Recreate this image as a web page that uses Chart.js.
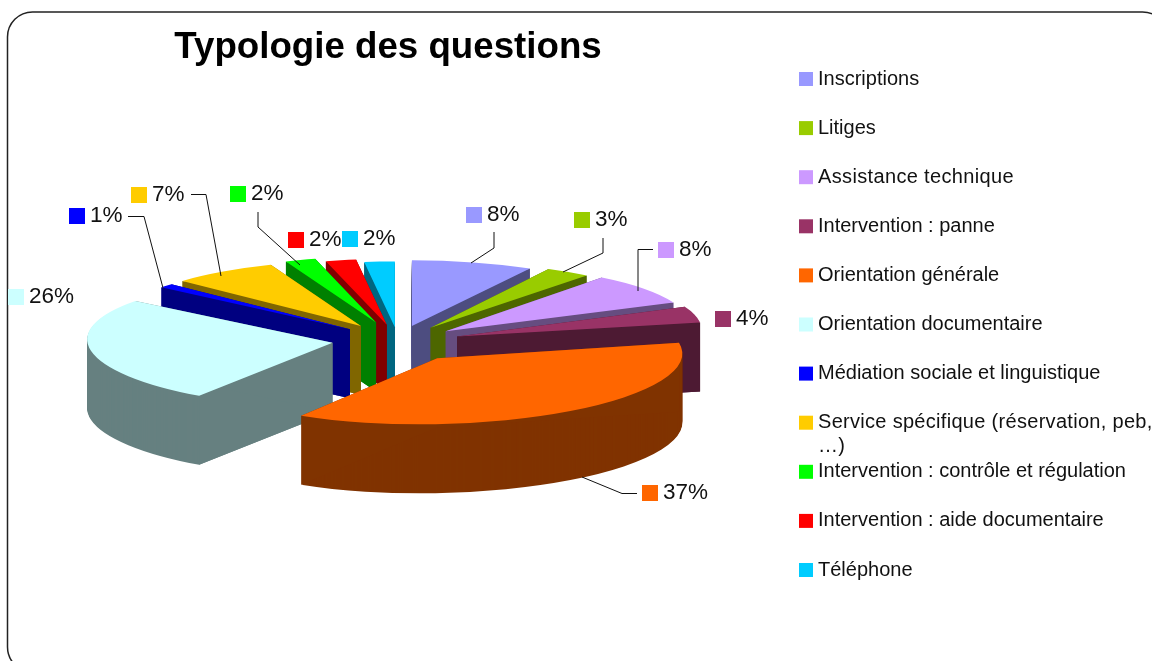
<!DOCTYPE html>
<html lang="fr">
<head>
<meta charset="utf-8">
<title>Typologie des questions</title>
<script src="https://cdn.jsdelivr.net/npm/chart.js@4"></script>
<style>
html,body{margin:0;padding:0;background:#fff}
canvas{display:block}
</style>
</head>
<body>
<canvas id="c" width="1152" height="661"></canvas>
<script>
const chartTitle = 'Typologie des questions';
const categories = ['Inscriptions','Litiges','Assistance technique','Intervention : panne','Orientation générale','Orientation documentaire','Médiation sociale et linguistique','Service spécifique (réservation, peb,|…)','Intervention : contrôle et régulation','Intervention : aide documentaire','Téléphone'];
const shares = [8,3,8,4,37,26,1,7,2,2,2];
const topColors = ['#9999FF','#99CC00','#CC99FF','#993366','#FF6600','#CCFFFF','#0000FF','#FFCC00','#00FF00','#FF0000','#00CCFF'];
const sideColors = ['#4D4D80','#4D6600','#664D80','#4D1A33','#803300','#668080','#000080','#806600','#008000','#800000','#006680'];
const explode = [56,58,59,61,77,66,64,66,71,60,50];
const shearX = [0,0,0,0,0.15,0.2,0,0,0,0,0];
const shearY = [0,-0.01,-0.02,-0.024,-0.03,0,0,0,0,0,0];
const tracking = [0,0,0.35,0,0,0,0,0.3,0,0,0];
const paintOrder = [10,9,8,7,6,0,1,2,3,5,4];
const labelBoxes = [[466,207],[574,212],[658,242],[715,311],[642,485],[8,289],[69,208],[131,187],[230,186],[288,232],[342,231]];
const leaders = [
  [[494,232],[494,248],[471,263]],
  [[603,238],[603,253],[563,272]],
  [[653,249.5],[638,249.5],[638,291]],
  [[582,477],[622,493.5],[637,493.5]],
  [[128,216.5],[144,216.5],[163,288]],
  [[191,194.5],[206,194.5],[221,276]],
  [[258,212],[258,227],[300,265]]
];
const tilt = 0.268, depth = 69;

const pie3d = {
  id: 'pie3d',
  beforeDraw(chart) {
    const c = chart.ctx;
    c.save();
    c.fillStyle = '#fff';
    c.fillRect(0, 0, chart.width, chart.height);
    c.strokeStyle = '#222';
    c.lineWidth = 1.5;
    c.beginPath();
    c.roundRect(7.5, 12, 1160, 660, 25);
    c.stroke();
    c.restore();
  },
  afterLayout(chart) {
    chart.titleBlock.left = 0;
    chart.titleBlock.right = 776;
  },
  beforeDatasetDraw(chart) {
    const c = chart.ctx, arcs = chart.getDatasetMeta(0).data;
    paintOrder.forEach(i => {
      const arc = arcs[i], base = arc.options;
      const mid = (arc.startAngle + arc.endAngle) / 2;
      const ax = arc.x + Math.cos(mid) * explode[i];
      const ay = arc.y + Math.sin(mid) * explode[i] * tilt;
      const place = dy => {
        c.save();
        c.translate(ax, ay + dy);
        c.transform(1, shearY[i], shearX[i], 1, 0, 0);
        c.scale(1, tilt);
        c.translate(-arc.x, -arc.y);
      };
      arc.options = Object.assign({}, base, {backgroundColor: sideColors[i]});
      for (let d = depth; d >= 1; d--) { place(d); arc.draw(c); c.restore(); }
      arc.options = base;
      c.fillStyle = sideColors[i];
      [arc.startAngle, arc.endAngle].forEach(a => {
        const px = Math.cos(a) * arc.outerRadius, py = Math.sin(a) * arc.outerRadius * tilt;
        const rx = ax + px + shearX[i] * py, ry = ay + py + shearY[i] * px;
        c.beginPath();
        c.moveTo(ax, ay);
        c.lineTo(rx, ry);
        c.lineTo(rx, ry + depth);
        c.lineTo(ax, ay + depth);
        c.closePath();
        c.fill();
      });
      place(0); arc.draw(c); c.restore();
    });
    return false;
  },
  afterDraw(chart) {
    const c = chart.ctx;
    c.save();
    c.strokeStyle = '#111';
    c.lineWidth = 1;
    leaders.forEach(l => {
      c.beginPath();
      l.forEach((p, j) => j ? c.lineTo(p[0], p[1]) : c.moveTo(p[0], p[1]));
      c.stroke();
    });
    c.textBaseline = 'middle';
    c.textAlign = 'left';
    c.font = '22.5px "Liberation Sans", Arial, sans-serif';
    shares.forEach((v, i) => {
      const [x, y] = labelBoxes[i];
      c.fillStyle = topColors[i];
      c.fillRect(x, y, 16, 16);
      c.fillStyle = '#111';
      c.fillText(v + '%', x + 21, y + 8);
    });
    c.font = '20px "Liberation Sans", Arial, sans-serif';
    categories.forEach((name, i) => {
      const y = 78 + i * 49.1;
      c.fillStyle = topColors[i];
      c.fillRect(799, y - 6, 14, 14);
      c.fillStyle = '#111';
      c.letterSpacing = tracking[i] + 'px';
      name.split('|').forEach((line, j) => c.fillText(line, 818, y + 1 + j * 24));
      c.letterSpacing = '0px';
    });
    c.restore();
  }
};

new Chart(document.getElementById('c'), {
  type: 'pie',
  data: {
    labels: categories.map(s => s.replace('|', ' ')),
    datasets: [{data: shares, backgroundColor: topColors, borderWidth: 0, clip: false}]
  },
  options: {
    responsive: false,
    animation: false,
    events: [],
    layout: {padding: {left: 153, right: 509, top: 0, bottom: 75.5}},
    plugins: {
      legend: {display: false},
      tooltip: {enabled: false},
      title: {
        display: true,
        text: chartTitle,
        color: '#000',
        align: 'center',
        font: {family: '"Liberation Sans", Arial, sans-serif', size: 36.7, weight: 'bold', lineHeight: 1.2},
        padding: {top: 26, bottom: 25.5}
      }
    }
  },
  plugins: [pie3d]
});
</script>
</body>
</html>
